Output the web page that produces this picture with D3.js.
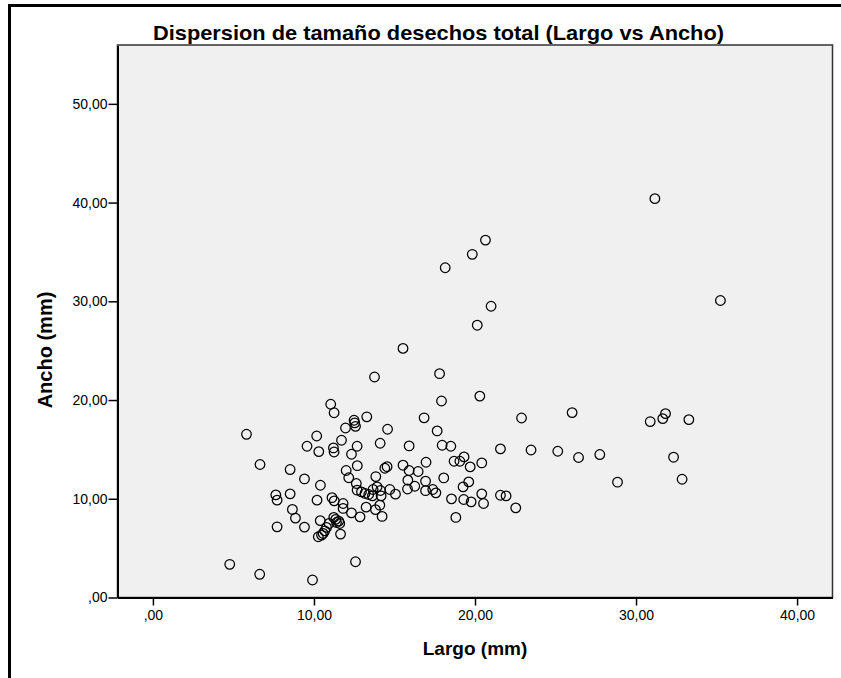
<!DOCTYPE html>
<html>
<head>
<meta charset="utf-8">
<script src="https://cdn.jsdelivr.net/npm/d3@7"></script>
<style>
  body { margin: 0; background: #fff; }
  text { font-family: "Liberation Sans", Arial, sans-serif; }
</style>
</head>
<body>
<div id="chart"></div>
<script>
// Largo (mm) / Ancho (mm)
var largo = [31.17, 20.65, 19.83, 18.15, 21.0, 20.14, 35.24, 15.53, 13.76, 17.8,
  17.92, 20.3, 11.04, 11.25, 13.28, 12.49, 12.53, 12.58, 11.96, 14.57,
  5.81, 10.17, 9.57, 10.3, 11.21, 11.25, 11.71, 12.68, 12.33, 14.11,
  15.91, 16.84, 17.65, 17.96, 18.5, 21.58, 22.89, 23.48, 25.14, 26.03,
  26.43, 27.75, 28.85, 30.88, 31.66, 31.83, 33.28, 32.33, 32.86, 6.65,
  8.52, 9.41, 10.4, 12.0, 12.16, 12.69, 13.84, 14.4, 14.54, 15.53,
  15.91, 16.47, 16.96, 15.83, 16.93, 16.26, 15.81, 16.93, 17.38, 17.57,
  18.06, 18.7, 19.06, 19.32, 19.7, 20.42, 19.26, 19.61, 18.54, 19.3,
  19.76, 20.42, 20.53, 21.58, 21.93, 22.53, 18.81, 7.63, 7.71, 8.52,
  10.19, 11.12, 11.26, 12.63, 12.68, 12.95, 13.17, 13.4, 13.63, 13.92,
  13.67, 14.13, 14.17, 14.71, 15.06, 11.81, 11.81, 12.33, 12.86, 13.24,
  14.09, 13.82, 14.23, 8.66, 8.85, 9.41, 7.71, 10.39, 11.23, 11.35,
  11.54, 11.4, 11.6, 10.94, 10.78, 10.67, 10.57, 10.47, 10.27, 11.65,
  4.77, 6.63, 9.91, 12.58];
var ancho = [40.4, 36.2, 34.76, 33.4, 29.5, 27.58, 30.08, 25.23, 22.33, 22.67,
  19.9, 20.4, 19.57, 18.71, 18.3, 17.95, 17.69, 17.34, 17.17, 17.04,
  16.53, 16.36, 15.32, 14.78, 15.15, 14.74, 15.93, 15.32, 14.51, 15.62,
  15.35, 18.2, 16.87, 15.42, 15.32, 15.05, 18.18, 14.94, 14.81, 18.73,
  14.18, 14.48, 11.68, 17.82, 18.12, 18.62, 18.02, 14.21, 11.98, 13.47,
  12.96, 12.01, 11.37, 12.86, 12.13, 13.35, 12.25, 13.09, 13.25, 13.4,
  12.86, 12.76, 13.7, 11.88, 11.78, 11.27, 10.99, 10.82, 10.94, 10.6,
  12.11, 13.8, 13.8, 14.24, 13.23, 13.63, 11.2, 11.71, 9.99, 9.93,
  9.69, 10.5, 9.52, 10.36, 10.29, 9.08, 8.11, 10.39, 9.86, 10.5,
  9.86, 10.11, 9.79, 11.55, 10.87, 10.7, 10.54, 10.43, 10.29, 11.2,
  10.94, 10.84, 10.29, 10.94, 10.47, 9.52, 9.02, 8.57, 8.17, 9.15,
  9.35, 8.9, 8.21, 8.92, 8.04, 7.13, 7.16, 7.79, 8.11, 7.91,
  7.74, 7.6, 7.5, 7.5, 7.1, 6.75, 6.49, 6.32, 6.15, 6.42,
  3.36, 2.35, 1.77, 3.62];

var xTicks = [0, 10, 20, 30, 40];
var yTicks = [0, 10, 20, 30, 40, 50];

var titulo = "Dispersion de tamaño desechos total (Largo vs Ancho)";
var xTitulo = "Largo (mm)";
var yTitulo = "Ancho (mm)";

var W = 841, H = 678;
var plotL = 117.5, plotR = 832.5, plotT = 45, plotB = 597.5;

var svg = d3.select("#chart").append("svg")
    .attr("width", W)
    .attr("height", H);

/** outer frame **/
svg.append("rect")
    .attr("x", 9.5).attr("y", 5.5)
    .attr("width", 900).attr("height", 900)
    .style("fill", "none")
    .style("stroke", "#000")
    .style("stroke-width", 3);

var x = d3.scaleLinear().domain([-2.2, 42.2]).range([plotL, plotR]);
var y = d3.scaleLinear().domain([0, 55.9]).range([plotB, 45.6]);

var es = d3.formatLocale({decimal: ",", thousands: ".", grouping: [3], currency: ["", "€"]});
var fmt = function(d) {
  var s = es.format(".2f")(d);
  return s.indexOf("0,") === 0 ? s.slice(1) : s;
};

/** plot background **/
svg.append("rect")
    .attr("x", plotL).attr("y", plotT)
    .attr("width", plotR - plotL).attr("height", plotB - plotT)
    .style("fill", "#f0f0f0")
    .style("stroke", "#333")
    .style("stroke-width", 1.5);

/** axes **/
var xAxis = svg.append("g")
    .attr("transform", "translate(0," + plotB + ")")
    .call(d3.axisBottom(x).tickValues(xTicks).tickFormat(fmt).tickSizeInner(8).tickSizeOuter(0).tickPadding(5));
var yAxis = svg.append("g")
    .attr("transform", "translate(" + plotL + ",0)")
    .call(d3.axisLeft(y).tickValues(yTicks).tickFormat(fmt).tickSizeInner(9).tickSizeOuter(0).tickPadding(1));

[xAxis, yAxis].forEach(function(g) {
  g.select(".domain").style("stroke", "#000").style("stroke-width", 2);
  g.selectAll(".tick line").style("stroke", "#000").style("stroke-width", 1.5);
  g.selectAll(".tick text")
      .style("font-family", "Liberation Sans, Arial, sans-serif")
      .style("font-size", "14px")
      .style("fill", "#000");
});

/** points **/
svg.append("g").selectAll("circle")
    .data(d3.range(largo.length))
    .enter().append("circle")
    .attr("cx", function(i) { return x(largo[i]); })
    .attr("cy", function(i) { return y(ancho[i]); })
    .attr("r", 4.8)
    .style("fill", "none")
    .style("stroke", "#000")
    .style("stroke-width", 1.25);

/** titles **/
svg.append("text")
    .text(titulo)
    .attr("x", 438.5).attr("y", 40)
    .attr("text-anchor", "middle")
    .attr("textLength", 571)
    .attr("lengthAdjust", "spacingAndGlyphs")
    .style("font-weight", "bold")
    .style("font-size", "21px");

svg.append("text")
    .text(xTitulo)
    .attr("x", 475).attr("y", 655)
    .attr("text-anchor", "middle")
    .style("font-weight", "bold")
    .style("font-size", "19px");

svg.append("text")
    .text(yTitulo)
    .attr("transform", "translate(52,350) rotate(-90)")
    .attr("text-anchor", "middle")
    .style("font-weight", "bold")
    .style("font-size", "20px");
</script>
</body>
</html>
